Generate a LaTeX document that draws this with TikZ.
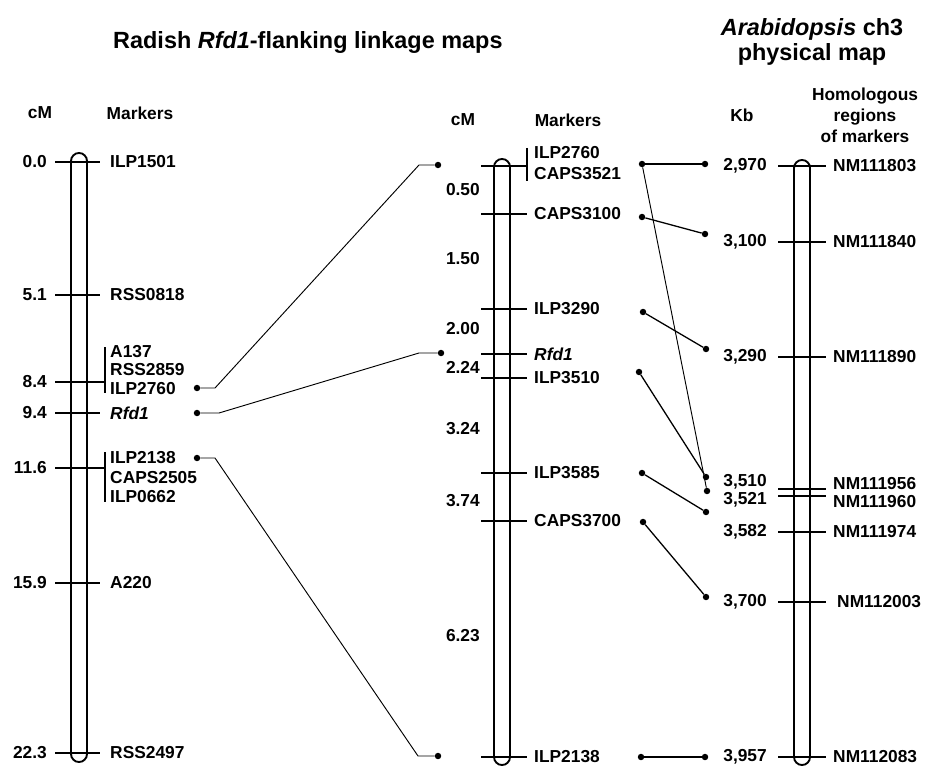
\documentclass[tikz,border=0pt]{standalone}
\usepackage{fontspec}
\setmainfont{Liberation Sans}
\usepackage{tikz}
\usetikzlibrary{positioning, calc}
\newcommand{\mapfont}{\fontsize{14.8}{18}\selectfont\bfseries}
\newcommand{\headfont}{\fontsize{20}{21.3}\selectfont\bfseries}

\begin{document}
\begin{tikzpicture}[x=0.03cm, y=-0.03cm,
  chrom/.style={draw, line width=1.6pt, rounded corners=0.24cm,
                minimum width=0.48cm, inner sep=0pt},
  tick/.style={line width=1.6pt},
  mlabel/.style={font=\mapfont, inner sep=0pt, anchor=west},
  num/.style={font=\mapfont, inner sep=0pt, anchor=east},
  head/.style={font=\mapfont, inner sep=0pt, align=center},
  dot/.style={circle, fill, inner sep=0pt, minimum size=5.5pt},
  link/.style={line width=0.8pt},
  hlink/.style={line width=1.1pt}
]
\useasboundingbox (0,0) rectangle (935,766);

% Titles
\node[font=\headfont, inner sep=0pt, anchor=west] (radtitle) at (113,42)
  {Radish \textit{Rfd1}-flanking linkage maps};
\node[font=\headfont, inner sep=0pt, align=center] (arabtitle) at (812,42)
  {\textit{Arabidopsis} ch3\\physical map};

% Left map: radish linkage map
\node[head] (lcm) at (40,113) {cM};
\node[head] (lmk) at (140,113) {Markers};
\node[chrom, minimum height=18.27cm] (lchr) at (79,457.5) {};
\draw[tick] (55,162) -- (100,162);
\draw[tick] (55,295) -- (100,295);
\draw[tick] (55,382) -- (105,382) (105,347) -- (105,393);
\draw[tick] (55,413) -- (100,413);
\draw[tick] (55,468) -- (105,468) (105,452) -- (105,502);
\draw[tick] (55,583) -- (100,583);
\draw[tick] (55,753) -- (100,753);
\node[num] (l00) at (47,162) {0.0};
\node[num] (l51) at (47,295) {5.1};
\node[num] (l84) at (47,382) {8.4};
\node[num] (l94) at (47,413) {9.4};
\node[num] (l116) at (47,468) {11.6};
\node[num] (l159) at (47,583) {15.9};
\node[num] (l223) at (47,753) {22.3};
\node[mlabel] (lILP1501) at (110,162) {ILP1501};
\node[mlabel] (lRSS0818) at (110,295) {RSS0818};
\node[mlabel] (lA137) at (110,352) {A137};
\node[mlabel] (lRSS2859) at (110,370) {RSS2859};
\node[mlabel] (lILP2760) at (110,389) {ILP2760};
\node[mlabel] (lRfd1) at (110,413) {\textit{Rfd1}};
\node[mlabel] (lILP2138) at (110,458) {ILP2138};
\node[mlabel] (lCAPS2505) at (110,478) {CAPS2505};
\node[mlabel] (lILP0662) at (110,497) {ILP0662};
\node[mlabel] (lA220) at (110,583) {A220};
\node[mlabel] (lRSS2497) at (110,753) {RSS2497};

% Middle map: fine linkage map
\node[head] (mcm) at (463,120) {cM};
\node[head] (mmk) at (568,120) {Markers};
\node[chrom, minimum height=18.18cm] (mchr) at (502,462) {};
\draw[tick] (481,166) -- (527,166) (527,148) -- (527,181);
\draw[tick] (481,214) -- (527,214);
\draw[tick] (481,309) -- (527,309);
\draw[tick] (481,354) -- (527,354);
\draw[tick] (481,378) -- (527,378);
\draw[tick] (481,473) -- (527,473);
\draw[tick] (481,521) -- (527,521);
\draw[tick] (481,757) -- (527,757);
\node[num] (m050) at (480,190) {0.50};
\node[num] (m150) at (480,259) {1.50};
\node[num] (m200) at (480,329) {2.00};
\node[num] (m224) at (480,367) {2.24};
\node[num] (m324) at (480,429) {3.24};
\node[num] (m374) at (480,501) {3.74};
\node[num] (m623) at (480,636) {6.23};
\node[mlabel] (mILP2760) at (534,153) {ILP2760};
\node[mlabel] (mCAPS3521) at (534,174) {CAPS3521};
\node[mlabel] (mCAPS3100) at (534,214) {CAPS3100};
\node[mlabel] (mILP3290) at (534,309) {ILP3290};
\node[mlabel] (mRfd1) at (534,354) {\textit{Rfd1}};
\node[mlabel] (mILP3510) at (534,378) {ILP3510};
\node[mlabel] (mILP3585) at (534,473) {ILP3585};
\node[mlabel] (mCAPS3700) at (534,521) {CAPS3700};
\node[mlabel] (mILP2138) at (534,757) {ILP2138};

% Right map: Arabidopsis physical map
\node[head] (rkb) at (742,115) {Kb};
\node[head] (rhom) at (865,115) {Homologous\\regions\\of markers};
\node[chrom, minimum height=18.15cm] (rchr) at (802,462.5) {};
\draw[tick] (778,166) -- (826,166);
\draw[tick] (778,242) -- (826,242);
\draw[tick] (778,357) -- (826,357);
\draw[tick] (778,489) -- (826,489);
\draw[tick] (778,496) -- (826,496);
\draw[tick] (778,532) -- (826,532);
\draw[tick] (778,602) -- (826,602);
\draw[tick] (778,757) -- (826,757);
\node[num] (r2970) at (767,166) {2,970};
\node[num] (r3100) at (767,242) {3,100};
\node[num] (r3290) at (767,357) {3,290};
\node[num] (r3510) at (767,482) {3,510};
\node[num] (r3521) at (767,500) {3,521};
\node[num] (r3582) at (767,532) {3,582};
\node[num] (r3700) at (767,602) {3,700};
\node[num] (r3957) at (767,757) {3,957};
\node[mlabel] (rNM111803) at (833,166) {NM111803};
\node[mlabel] (rNM111840) at (833,242) {NM111840};
\node[mlabel] (rNM111890) at (833,357) {NM111890};
\node[mlabel] (rNM111956) at (833,484) {NM111956};
\node[mlabel] (rNM111960) at (833,502) {NM111960};
\node[mlabel] (rNM111974) at (833,532) {NM111974};
\node[mlabel] (rNM112003) at (837,602) {NM112003};
\node[mlabel] (rNM112083) at (833,757) {NM112083};

% Dots
\node[dot] (dl2760) at (197,388) {};
\node[dot] (dlRfd1) at (197,413) {};
\node[dot] (dl2138) at (197,458) {};
\node[dot] (dc2760) at (438,165) {};
\node[dot] (dcRfd1) at (441,353) {};
\node[dot] (dc2138) at (438,756) {};
\node[dot] (dm2760) at (642,164) {};
\node[dot] (dm3100) at (642,217) {};
\node[dot] (dm3290) at (643,312) {};
\node[dot] (dm3510) at (639,372) {};
\node[dot] (dm3585) at (642,473) {};
\node[dot] (dm3700) at (643,522) {};
\node[dot] (dm2138) at (641,757) {};
\node[dot] (dr2970) at (705,164) {};
\node[dot] (dr3100) at (705,234) {};
\node[dot] (dr3290) at (706,349) {};
\node[dot] (dr3510) at (706,477) {};
\node[dot] (dr3521) at (707,491) {};
\node[dot] (dr3582) at (706,512) {};
\node[dot] (dr3700) at (706,597) {};
\node[dot] (dr3957) at (705,757) {};

% Connectors: radish map to fine map
\draw[link] (dl2760) -- ++(18,0) -- ($(dc2760)+(-19,0)$) -- (dc2760);
\draw[link] (dlRfd1) -- ++(22,0) -- ($(dcRfd1)+(-22,0)$) -- (dcRfd1);
\draw[link] (dl2138) -- ++(18,0) -- ($(dc2138)+(-20,0)$) -- (dc2138);

% Connectors: fine map to Arabidopsis
\draw[hlink] (dm2760) -- (dr2970);
\draw[link] (dm2760) -- (dr3521);
\draw[hlink] (dm3100) -- (dr3100);
\draw[hlink] (dm3290) -- (dr3290);
\draw[hlink] (dm3510) -- (dr3510);
\draw[hlink] (dm3585) -- (dr3582);
\draw[hlink] (dm3700) -- (dr3700);
\draw[hlink] (dm2138) -- (dr3957);
\end{tikzpicture}
\end{document}
